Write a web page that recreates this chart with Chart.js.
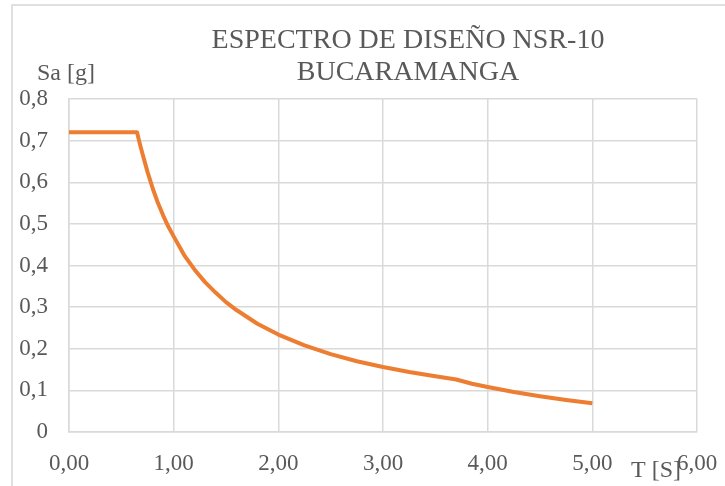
<!DOCTYPE html>
<html>
<head>
<meta charset="utf-8">
<script src="https://cdn.jsdelivr.net/npm/chart.js@4/dist/chart.umd.min.js"></script>
<style>
  html, body { margin: 0; padding: 0; background: #fff; overflow: hidden; }
  #wrap { position: relative; width: 725px; height: 486px; }
  #frame { position: absolute; left: 11px; top: 4px; width: 740px; height: 500px;
           border: 2px solid #e0e0e0; box-sizing: border-box; }
  canvas { position: absolute; left: 0; top: 0; }
</style>
</head>
<body>
<div id="wrap">
  <div id="frame"></div>
  <canvas id="spectrum" width="725" height="486"></canvas>
</div>
<script>
// Espectro de diseño NSR-10, Bucaramanga
const chartTitle = ["ESPECTRO DE DISEÑO NSR-10", "BUCARAMANGA"];
const yTitle = "Sa [g]";
const xTitle = "T [S]";

const periods = [0, 0.65, 0.675, 0.70, 0.75, 0.80, 0.85, 0.90, 0.95, 1.00, 1.10, 1.20, 1.30,
                 1.40, 1.50, 1.60, 1.80, 2.00, 2.25, 2.50, 2.75, 3.00, 3.25, 3.50, 3.70,
                 3.85, 4.00, 4.25, 4.50, 4.75, 5.00];
const sa = [0.72, 0.72, 0.694, 0.67, 0.625, 0.585, 0.55, 0.52, 0.493, 0.47, 0.425, 0.39, 0.36,
            0.335, 0.312, 0.293, 0.26, 0.234, 0.208, 0.187, 0.17, 0.156, 0.144, 0.134, 0.126,
            0.116, 0.108, 0.096, 0.086, 0.077, 0.069];

const xMin = 0, xMax = 6, xStep = 1;
const yMin = 0, yMax = 0.8, yStep = 0.1;

const font = "'Liberation Serif', 'Times New Roman', serif";
const textColor = "#595959";
const gridColor = "#d9d9d9";

// titles drawn on top of the canvas
const textPlugin = {
  id: "texts",
  afterDraw(chart) {
    const ctx = chart.ctx;
    ctx.save();
    ctx.fillStyle = textColor;
    ctx.textAlign = "center";
    ctx.textBaseline = "middle";
    ctx.font = "28px " + font;
    ctx.fillText(chartTitle[0], 408, 41);
    ctx.fillText(chartTitle[1], 408, 73);
    ctx.font = "24px " + font;
    ctx.fillText(yTitle, 66, 74);
    ctx.fillText(xTitle, 656, 471);
    ctx.restore();
  }
};

new Chart(document.getElementById("spectrum"), {
  type: "line",
  data: {
    datasets: [{
      data: periods.map((t, i) => ({ x: t, y: sa[i] })),
      borderColor: "#ED7D31",
      borderWidth: 4,
      pointRadius: 0,
      tension: 0,
      borderJoinStyle: "round",
      fill: false
    }]
  },
  options: {
    responsive: false,
    animation: false,
    layout: { padding: { top: 99, right: 28, left: 0, bottom: 0 } },
    plugins: {
      legend: { display: false },
      tooltip: { enabled: false }
    },
    scales: {
      x: {
        type: "linear",
        min: xMin, max: xMax,
        afterFit: s => { s.height = 54; s.paddingLeft = 0; s.paddingRight = 0; },
        grid: { color: gridColor, lineWidth: 1.5, drawTicks: false },
        border: { color: gridColor, width: 1.5 },
        ticks: {
          stepSize: xStep,
          padding: 18,
          color: textColor,
          font: { family: font, size: 23 },
          maxRotation: 0,
          callback: v => v.toFixed(2).replace(".", ",")
        }
      },
      y: {
        min: yMin, max: yMax,
        afterFit: s => { s.width = 69; s.paddingTop = 0; s.paddingBottom = 0; },
        grid: { color: gridColor, lineWidth: 1.5, drawTicks: false },
        border: { color: gridColor, width: 1.5 },
        ticks: {
          stepSize: yStep,
          padding: 21,
          color: textColor,
          font: { family: font, size: 23 },
          callback: v => Math.abs(v) < 1e-9 ? "0" : v.toFixed(1).replace(".", ",")
        }
      }
    }
  },
  plugins: [textPlugin]
});
</script>
</body>
</html>
